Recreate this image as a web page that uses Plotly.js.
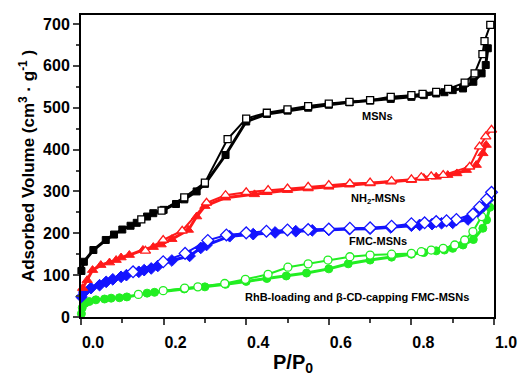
<!DOCTYPE html>
<html><head><meta charset="utf-8">
<script src="https://cdn.plot.ly/plotly-3.0.1.min.js"></script>
<style>html,body{margin:0;padding:0;background:#fff}#chart{width:519px;height:377px}</style>
</head><body><div id="chart"></div>
<script>
// MSNs
const msnAdsX = [0.001,0.007,0.03,0.06,0.08,0.10,0.12,0.135,0.16,0.175,0.20,0.23,0.25,0.28,0.30,0.35,0.40,0.45,0.50,0.55,0.60,0.65,0.70,0.75,0.80,0.83,0.86,0.88,0.90,0.925,0.95,0.97,0.98,0.985];
const msnAdsY = [110,132,160,184,197,209,218,225,240,248,256,270,281,300,318,387,467,485,493,500,507,513,517,521,526,530,534,537,542,546,562,582,602,642];
const msnDesX = [0.991,0.977,0.972,0.953,0.929,0.889,0.86,0.827,0.80,0.75,0.70,0.65,0.60,0.55,0.50,0.45,0.40,0.355,0.30,0.25,0.195,0.146];
const msnDesY = [698,659,628,582,560,545,538,533,530,526,518,514,510,504,496,488,474,425,321,286,254,233];
// NH2-MSNs
const nhAdsX = [0.004,0.015,0.028,0.048,0.069,0.085,0.097,0.117,0.15,0.175,0.194,0.22,0.26,0.28,0.30,0.35,0.42,0.45,0.50,0.55,0.60,0.65,0.70,0.75,0.80,0.83,0.86,0.888,0.91,0.933,0.957,0.973,0.981];
const nhAdsY = [69,88,112,124,130,136,142,148,160,167,173,186,208,240,265,285,293,298,303,307,311,316,319,323,327,332,335,339,343,351,363,391,411];
const nhDesX = [0.994,0.98,0.965,0.941,0.877,0.848,0.824,0.80,0.752,0.70,0.651,0.60,0.55,0.50,0.453,0.40,0.35,0.304,0.245,0.199,0.156];
const nhDesY = [447,431,407,359,339,336,334,329,325,321,319,315,311,307,303,298,291,273,206,184,158];
// FMC-MSNs
const fmcAdsX = [0.001,0.008,0.024,0.045,0.061,0.077,0.097,0.11,0.14,0.153,0.17,0.186,0.22,0.263,0.29,0.304,0.36,0.417,0.47,0.52,0.56,0.60,0.65,0.70,0.75,0.80,0.82,0.85,0.873,0.90,0.937,0.961,0.975,0.985];
const fmcAdsY = [48,60,69,76,84,90,96,100,108,112,116,122,135,146,165,172,193,198,202,205,207,208,210,211,214,218,220,222,224,225,233,252,265,280];
const fmcDesX = [0.994,0.982,0.965,0.949,0.909,0.885,0.86,0.832,0.80,0.752,0.70,0.651,0.60,0.55,0.50,0.449,0.40,0.352,0.307,0.252,0.199,0.126];
const fmcDesY = [298,281,263,246,233,230,228,225,223,217,213,212,210,209,208,205,201,196,183,152,132,108];
// RhB-loading and beta-CD-capping FMC-MSNs
const rhbAdsX = [0.001,0.003,0.01,0.02,0.036,0.057,0.073,0.093,0.111,0.16,0.178,0.25,0.30,0.35,0.40,0.45,0.497,0.546,0.60,0.647,0.70,0.752,0.80,0.83,0.86,0.88,0.90,0.925,0.95,0.973,0.982,0.99];
const rhbAdsY = [8,22,33,37,41,43,45,46,48,57,59,67,72,78,85,92,98,105,115,127,136,143,150,154,158,160,164,172,185,212,232,262];
const rhbDesX = [0.994,0.982,0.97,0.949,0.929,0.905,0.877,0.848,0.824,0.80,0.752,0.70,0.651,0.598,0.55,0.501,0.453,0.398,0.348,0.283,0.251,0.199,0.139];
const rhbDesY = [287,272,240,204,184,172,164,160,156,152,150,148,144,136,127,119,102,90,80,72,69,63,54];

const xTicks = [0,0.2,0.4,0.6,0.8,1.0];
const xTickText = ['0.0','0.2','0.4','0.6','0.8','1.0'];
const yTicks = [0,100,200,300,400,500,600,700];
const yTickText = ['0','100','200','300','400','500','600','700'];

function ads(x,y,color,sym,size){
  return {x:x,y:y,type:'scatter',mode:'lines+markers',cliponaxis:false,
    line:{color:color,width:3},marker:{symbol:sym,size:size,color:color,line:{color:color,width:1}},showlegend:false};
}
function des(x,y,color,sym,size){
  return {x:x,y:y,type:'scatter',mode:'lines+markers',cliponaxis:false,
    line:{color:color,width:2},marker:{symbol:sym,size:size,color:'#ffffff',line:{color:color,width:1.3}},showlegend:false};
}
const BLACK='#000000', RED='#ff1a1a', BLUE='#1414ff', GREEN='#22ee22';
const data = [
  ads(rhbAdsX,rhbAdsY,GREEN,'circle',8), des(rhbDesX,rhbDesY,GREEN,'circle',8),
  ads(fmcAdsX,fmcAdsY,BLUE,'diamond',9), des(fmcDesX,fmcDesY,BLUE,'diamond',9),
  ads(nhAdsX,nhAdsY,RED,'triangle-up',9), des(nhDesX,nhDesY,RED,'triangle-up',9),
  ads(msnAdsX,msnAdsY,BLACK,'square',7), des(msnDesX,msnDesY,BLACK,'square',7)
];
const annFont = {family:'Arial, Liberation Sans, sans-serif',size:11,color:'#000'};
const layout = {
  width:519,height:377,margin:{l:81,r:25,t:15,b:60},
  paper_bgcolor:'#fff',plot_bgcolor:'#fff',
  font:{family:'Arial, Liberation Sans, sans-serif',color:'#000'},
  xaxis:{range:[0,1],tickvals:xTicks,ticktext:xTickText,ticks:'outside',ticklen:6,tickwidth:2,
    ticklabelshift:12,ticklabelstandoff:4,showline:true,linewidth:2,linecolor:'#000',mirror:true,showgrid:false,zeroline:false,
    tickfont:{size:16,family:'Arial, Liberation Sans, sans-serif',weight:'bold'},
    minor:{dtick:0.1,tick0:0,ticks:'outside',ticklen:4,tickwidth:2,showgrid:false}},
  yaxis:{range:[0,721.5],tickvals:yTicks,ticktext:yTickText,ticks:'outside',ticklen:6,tickwidth:2,
    showline:true,linewidth:2,linecolor:'#000',mirror:true,showgrid:false,zeroline:false,
    tickfont:{size:16,family:'Arial, Liberation Sans, sans-serif',weight:'bold'},
    minor:{dtick:50,tick0:0,ticks:'outside',ticklen:3,tickwidth:2,showgrid:false},
    title:{text:'<b>Adsorbed Volume (cm<sup>3</sup> · g<sup>-1</sup> )</b>',font:{size:17},standoff:4}},
  annotations:[
    {x:0.513,y:-0.155,xref:'paper',yref:'paper',yanchor:'middle',text:'<b>P/P<sub>0</sub></b>',showarrow:false,font:{family:'Arial, Liberation Sans, sans-serif',size:20,color:'#000'}},
    {x:0.718,y:480,xref:'x',yref:'y',text:'<b>MSNs</b>',showarrow:false,font:annFont},
    {x:0.718,y:283,xref:'x',yref:'y',text:'<b>NH<sub>2</sub>-MSNs</b>',showarrow:false,font:annFont},
    {x:0.718,y:182,xref:'x',yref:'y',text:'<b>FMC-MSNs</b>',showarrow:false,font:annFont},
    {x:0.668,y:48,xref:'x',yref:'y',text:'<b>RhB-loading and β-CD-capping FMC-MSNs</b>',showarrow:false,font:annFont}
  ]
};
Plotly.newPlot('chart',data,layout,{staticPlot:true,displayModeBar:false});
</script></body></html>
